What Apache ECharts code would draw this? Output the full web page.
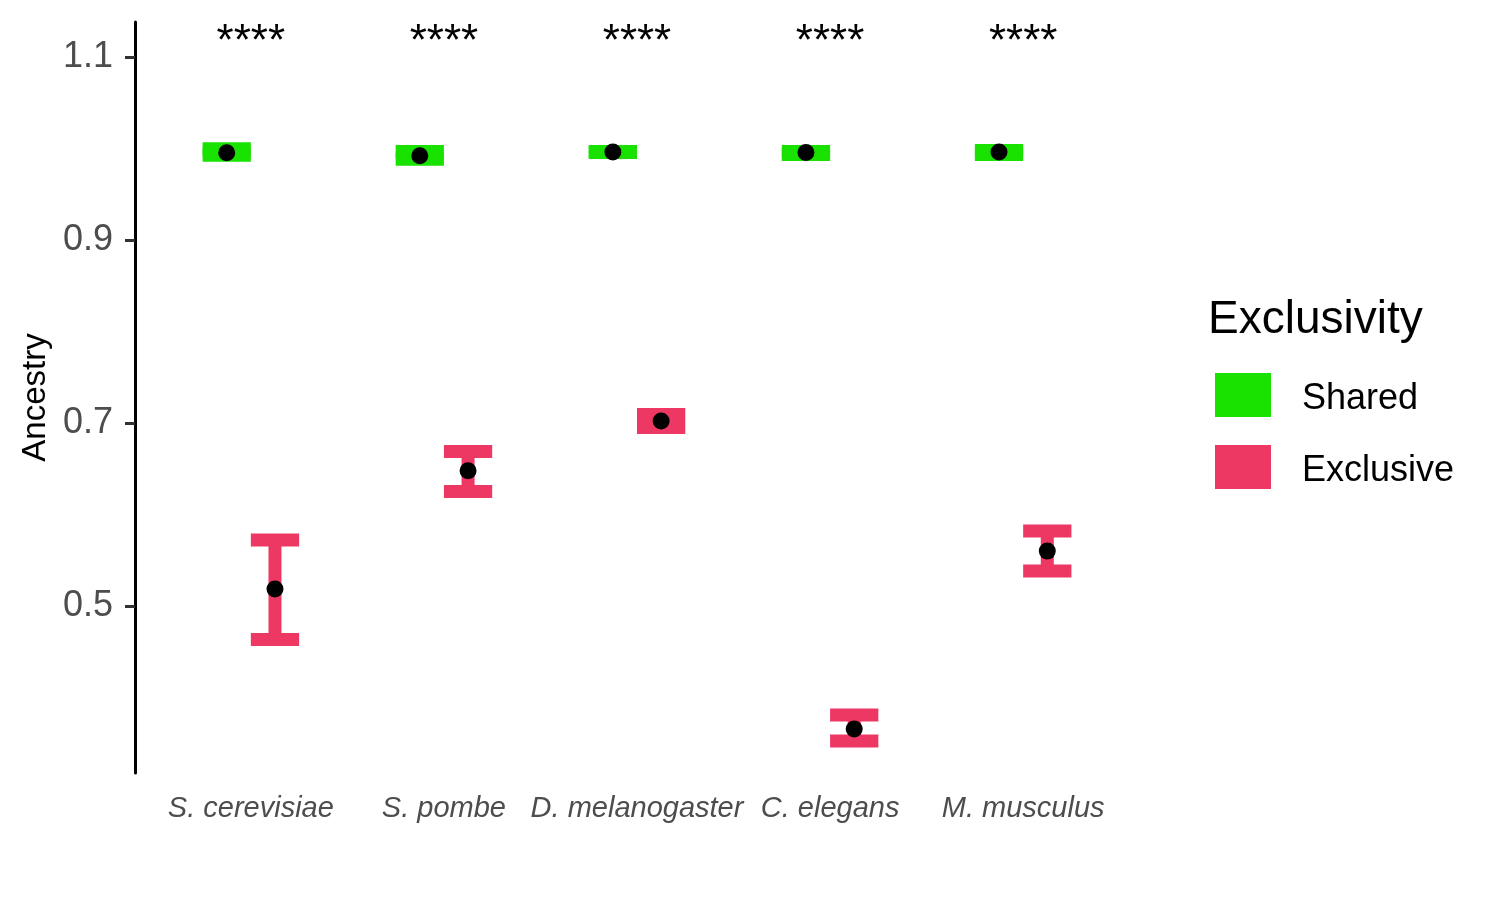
<!DOCTYPE html>
<html>
<head>
<meta charset="utf-8">
<script src="https://cdn.jsdelivr.net/npm/echarts@6/dist/echarts.min.js"></script>
<style>
html,body{margin:0;padding:0;background:#fff;}
#chart{width:1500px;height:900px;}
</style>
</head>
<body>
<div id="chart"></div>
<script>
// ---- data ----
const categories = ['S. cerevisiae', 'S. pombe', 'D. melanogaster', 'C. elegans', 'M. musculus'];
const sharedMean = [0.9954, 0.9921, 0.9962, 0.9956, 0.9962];
const sharedLow  = [0.9927, 0.9883, 0.9956, 0.9934, 0.9934];
const sharedHigh = [0.9997, 0.9967, 0.9967, 0.9967, 0.9978];
const exclusiveMean = [0.5186, 0.6478, 0.7022, 0.3656, 0.5600];
const exclusiveLow  = [0.4634, 0.6251, 0.6951, 0.3525, 0.5383];
const exclusiveHigh = [0.5721, 0.6689, 0.7093, 0.3809, 0.5820];
const significance = ['****', '****', '****', '****', '****'];
const yTicks = [0.5, 0.7, 0.9, 1.1];
const groupNames = ['Shared', 'Exclusive'];
const STAR_Y = 1.116;

// ---- layout / styling ----
const DODGE = 0.125;
const CAP_HALF = 0.125;
const colors = { Shared: '#19E200', Exclusive: '#EE3864' };
const FONT = '"Liberation Sans", Arial, sans-serif';

function barData(low, high, offset) {
  return categories.map((c, i) => [i + offset, low[i], high[i]]);
}
function pointData(mean, offset) {
  return categories.map((c, i) => [i + offset, mean[i]]);
}

function renderErrorBar(params, api) {
  const x = api.value(0), lo = api.value(1), hi = api.value(2);
  const pHi = api.coord([x, hi]);
  const pLo = api.coord([x, lo]);
  const left = api.coord([x - CAP_HALF, hi])[0];
  const right = api.coord([x + CAP_HALF, hi])[0];
  const style = { stroke: api.visual('color'), lineWidth: 13, lineCap: 'butt' };
  return {
    type: 'group',
    children: [
      { type: 'line', shape: { x1: left, y1: pHi[1], x2: right, y2: pHi[1] }, style },
      { type: 'line', shape: { x1: pHi[0], y1: pHi[1], x2: pLo[0], y2: pLo[1] }, style },
      { type: 'line', shape: { x1: left, y1: pLo[1], x2: right, y2: pLo[1] }, style }
    ]
  };
}

const chart = echarts.init(document.getElementById('chart'), null, { renderer: 'canvas' });

const option = {
  backgroundColor: '#ffffff',
  animation: false,
  title: {
    text: 'Exclusivity',
    left: 1203,
    top: 292,
    textStyle: { fontFamily: FONT, fontSize: 46, fontWeight: 'normal', color: '#000' }
  },
  legend: {
    data: groupNames,
    orient: 'vertical',
    left: 1210,
    top: 368,
    itemWidth: 56,
    itemHeight: 44,
    itemGap: 28,
    icon: 'rect',
    formatter: name => '{t|' + name + '}',
    textStyle: {
      fontFamily: FONT, fontSize: 36, color: '#000',
      rich: { t: { fontFamily: FONT, fontSize: 36, color: '#000', padding: [8, 0, 0, 26] } }
    }
  },
  grid: { left: 135, right: 361, top: 22, bottom: 127, containLabel: false },
  xAxis: {
    type: 'value',
    min: -0.6,
    max: 4.6,
    axisLine: { show: false },
    axisTick: { show: false },
    splitLine: { show: false },
    axisLabel: {
      customValues: categories.map((c, i) => i),
      formatter: v => categories[Math.round(v)] || '',
      fontFamily: FONT,
      fontSize: 29,
      fontStyle: 'italic',
      color: '#4D4D4D',
      margin: 21
    }
  },
  yAxis: {
    type: 'value',
    min: 0.3175,
    max: 1.1383,
    name: 'Ancestry',
    nameLocation: 'middle',
    nameRotate: 90,
    nameGap: 77,
    nameTextStyle: { fontFamily: FONT, fontSize: 33, color: '#000' },
    axisLine: { show: true, onZero: false, lineStyle: { color: '#000', width: 3 } },
    axisTick: { show: true, length: 10, customValues: yTicks, lineStyle: { color: '#333', width: 3 } },
    splitLine: { show: false },
    axisLabel: {
      customValues: yTicks,
      formatter: v => v.toFixed(1),
      fontFamily: FONT,
      fontSize: 36,
      color: '#4D4D4D',
      margin: 22
    }
  },
  series: [
    {
      name: 'Shared',
      type: 'custom',
      itemStyle: { color: colors.Shared },
      renderItem: renderErrorBar,
      encode: { x: 0, y: [1, 2] },
      data: barData(sharedLow, sharedHigh, -DODGE),
      z: 2
    },
    {
      name: 'Exclusive',
      type: 'custom',
      itemStyle: { color: colors.Exclusive },
      renderItem: renderErrorBar,
      encode: { x: 0, y: [1, 2] },
      data: barData(exclusiveLow, exclusiveHigh, DODGE),
      z: 2
    },
    {
      name: 'SharedMean',
      type: 'scatter',
      symbol: 'circle',
      symbolSize: 17,
      itemStyle: { color: '#000', opacity: 1 },
      data: pointData(sharedMean, -DODGE),
      z: 5
    },
    {
      name: 'ExclusiveMean',
      type: 'scatter',
      symbol: 'circle',
      symbolSize: 17,
      itemStyle: { color: '#000', opacity: 1 },
      data: pointData(exclusiveMean, DODGE),
      z: 5
    },
    {
      name: 'Significance',
      type: 'custom',
      data: significance.map((s, i) => [i, STAR_Y]),
      renderItem: function (params, api) {
        const p = api.coord([api.value(0), api.value(1)]);
        return {
          type: 'text',
          x: p[0],
          y: p[1],
          style: {
            text: significance[params.dataIndex],
            textAlign: 'center',
            textVerticalAlign: 'middle',
            fontFamily: FONT,
            fontSize: 44,
            fill: '#000'
          }
        };
      },
      z: 6
    }
  ]
};
chart.setOption(option);
</script>
</body>
</html>
